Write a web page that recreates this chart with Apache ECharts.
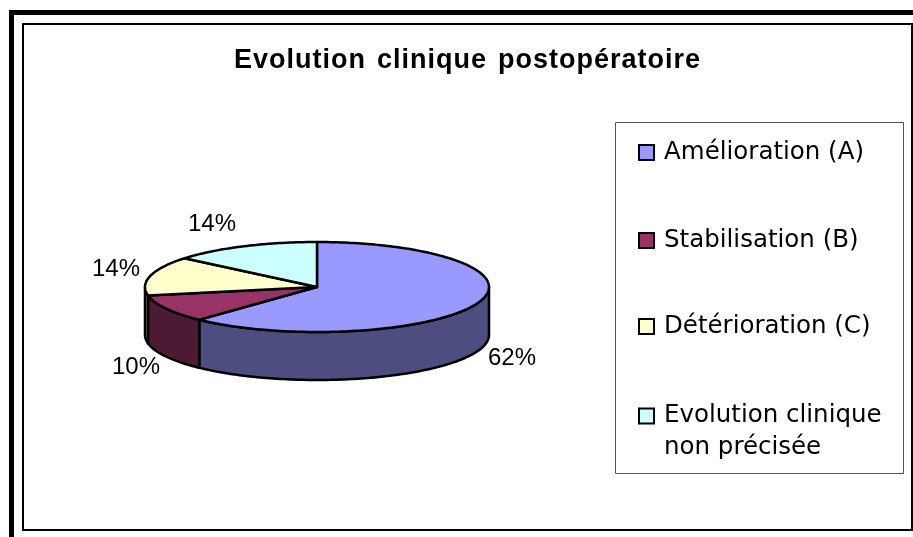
<!DOCTYPE html>
<html>
<head>
<meta charset="utf-8">
<style>html,body{margin:0;padding:0;background:#fff}#c{width:913px;height:537px}</style>
<script src="https://cdn.jsdelivr.net/npm/echarts@6/dist/echarts.min.js"></script>
</head>
<body>
<div id="c"></div>
<script>
var titleText = 'Evolution clinique postopératoire';
var categories = ['Amélioration (A)', 'Stabilisation (B)', 'Détérioration (C)', 'Evolution clinique non précisée'];
var values = [62, 10, 14, 14];
var topColors = ['#9999FF', '#993366', '#FFFFCC', '#CCFFFF'];
var wallColors = ['#4D4D80', '#4D1A33', '#808066', '#668080'];

// layout
var CX = 317, CY = 287, RX = 172, RY = 45, DEPTH = 48;
var labelPos = [[512, 358], [136, 367], [116, 269], [212, 224]];
var legendRowY = [148, 236, 322, 414];
var legendLineH = 32;

// The reference title is letter-spaced; apply the same tracking when it is painted.
var nativeFill = CanvasRenderingContext2D.prototype.fillText;
CanvasRenderingContext2D.prototype.fillText = function (t, x, y) {
  var on = t === titleText && 'letterSpacing' in this;
  if (on) { this.letterSpacing = '1px'; this.wordSpacing = '2.5px'; }
  nativeFill.apply(this, arguments);
  if (on) { this.letterSpacing = '0px'; this.wordSpacing = '0px'; }
};

var total = values.reduce(function (a, b) { return a + b; }, 0);
function startAngle(i) {
  var s = 0;
  for (var k = 0; k < i; k++) s += values[k];
  return s / total * 2 * Math.PI;
}
function pt(a, dy) {
  return [CX + RX * Math.sin(a), CY - RY * Math.cos(a) + (dy || 0)];
}
function arc(a0, a1, dy) {
  var n = Math.max(2, Math.ceil((a1 - a0) / 0.02)), pts = [];
  for (var j = 0; j <= n; j++) pts.push(pt(a0 + (a1 - a0) * j / n, dy));
  return pts;
}
var strokeStyle = { stroke: '#000', lineWidth: 2.5, lineJoin: 'round' };

function renderWall(params, api) {
  var i = api.value(0);
  var a0 = Math.max(startAngle(i), Math.PI / 2);
  var a1 = Math.min(startAngle(i) + values[i] / total * 2 * Math.PI, Math.PI * 3 / 2);
  if (a1 <= a0) return { type: 'group', children: [] };
  var pts = arc(a0, a1, 0).concat(arc(a0, a1, DEPTH).reverse());
  return {
    type: 'polygon',
    shape: { points: pts },
    style: Object.assign({ fill: wallColors[i] }, strokeStyle)
  };
}
function makeTopRenderer(i) {
  return function (params, api) {
    var a0 = startAngle(i);
    var a1 = a0 + api.value(0) / total * 2 * Math.PI;
    return {
      type: 'group',
      children: [
        {
          type: 'polygon',
          shape: { points: [[CX, CY]].concat(arc(a0, a1, 0)) },
          style: Object.assign({ fill: topColors[i] }, strokeStyle)
        },
        {
          type: 'text',
          x: labelPos[i][0], y: labelPos[i][1],
          style: {
            text: api.value(0) + '%',
            fill: '#000',
            font: '24px "Liberation Sans", Arial, sans-serif',
            align: 'center', verticalAlign: 'middle'
          }
        }
      ]
    };
  };
}

var series = [{
  type: 'custom', name: 'parois', coordinateSystem: 'none', silent: true, z: 2,
  data: values.map(function (v, i) { return [i]; }),
  renderItem: renderWall
}];
categories.forEach(function (name, i) {
  series.push({
    type: 'custom', name: name, coordinateSystem: 'none', z: 3,
    itemStyle: { color: topColors[i] },
    data: [[values[i]]],
    renderItem: makeTopRenderer(i)
  });
});

var legends = categories.map(function (name, i) {
  var isLong = i === categories.length - 1;
  return {
    data: [name],
    orient: 'vertical',
    left: 638,
    top: isLong ? legendRowY[i] - legendLineH * 1.5 : legendRowY[i] - 8,
    padding: 0,
    selectedMode: false,
    icon: 'rect',
    itemWidth: 15,
    itemHeight: 15,
    itemStyle: { color: topColors[i], borderColor: '#000', borderWidth: 2 },
    textStyle: {
      color: '#000',
      fontFamily: '"DejaVu Sans", sans-serif',
      fontSize: 24.5,
      lineHeight: isLong ? legendLineH : 16,
      padding: [4, 0, 0, 5]
    },
    formatter: function (n) {
      return isLong ? ' \nEvolution clinique\nnon précisée' : n;
    }
  };
});

function bar(x, y, w, h, fill) {
  return { type: 'rect', silent: true, z: 0, shape: { x: x, y: y, width: w, height: h }, style: { fill: fill } };
}

var chart = echarts.init(document.getElementById('c'), null, { renderer: 'canvas' });
chart.setOption({
  animation: false,
  backgroundColor: '#fff',
  title: {
    text: titleText,
    left: 234, top: 47, padding: 0,
    textStyle: { color: '#000', fontFamily: '"Liberation Sans", Arial, sans-serif', fontWeight: 'bold', fontSize: 27 }
  },
  legend: legends,
  graphic: [
    bar(9, 10, 5, 527, '#000'),
    bar(9, 10, 904, 5, '#000'),
    bar(22, 23, 2, 508, '#000'),
    bar(22, 23, 891, 2, '#000'),
    bar(22, 529, 891, 2, '#000'),
    bar(911, 23, 2, 508, '#000'),
    { type: 'rect', silent: true, z: 0, shape: { x: 615.5, y: 122.5, width: 288, height: 351 }, style: { fill: '#fff', stroke: '#555', lineWidth: 1 } }
  ],
  series: series
});
</script>
</body>
</html>
